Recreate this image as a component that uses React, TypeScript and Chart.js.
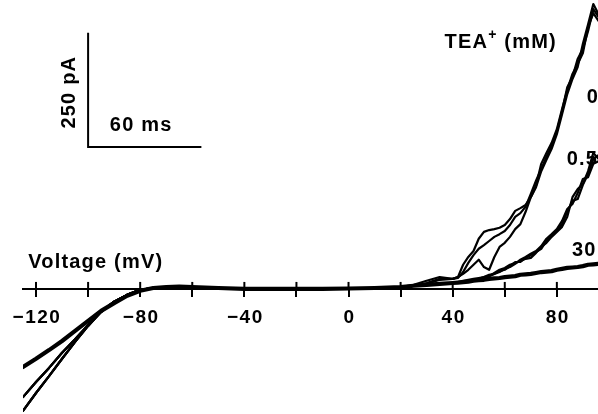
import React, { useEffect, useRef } from "react";
import { Chart, registerables } from "chart.js";

Chart.register(...registerables);

// Voltage grid (mV) for the hyperpolarised / plateau part of the ramps
const NEG_V = [-125, -120, -115, -110, -105, -100, -95, -90, -85, -80, -75, -70, -65, -60, -50, -40, -30, -20, -10, 0, 10, 20];
// Currents (pA) in that part, per TEA+ concentration
const NEG_0 = [-267, -228, -191, -153, -116, -81, -50, -28, -13, -2, 2, 4, 5, 4, 2, 0, 0, 0, 0, 1, 2, 4];
const NEG_05 = [-237, -204, -173, -140, -110, -79, -50, -28, -13, -2, 2, 4, 5, 4, 2, 0, 0, 0, 0, 1, 2, 4];
const NEG_30 = [-171, -153, -134, -114, -92, -70, -48, -31, -15, -4, 2, 4, 5, 4, 2, 0, 0, 0, 0, 1, 2, 4];

// Voltage grid (mV) for the depolarised part
const POS_V = [25, 30, 35, 40, 42, 44, 46, 48, 50, 52, 54, 56, 58, 60, 62, 64, 66, 68, 70, 72, 74, 76, 78, 80, 82, 84, 86, 88, 90, 92, 94, 96];
// 0 mM TEA+ : three sweeps (pA)
const POS_0A = [9, 18, 26, 22, 26, 53, 70, 83, 110, 125, 129, 131, 134, 140, 153, 171, 177, 184, 201, 226, 274, 298, 320, 350, 394, 436, 471, 493, 517, 574, 604, 587];
const POS_0B = [7, 11, 20, 22, 26, 33, 42, 53, 64, 48, 42, 70, 92, 101, 114, 131, 142, 169, 201, 223, 258, 283, 307, 339, 383, 427, 460, 486, 537, 580, 624, 602];
const POS_0C = [7, 13, 22, 22, 24, 37, 57, 74, 88, 96, 105, 114, 120, 127, 140, 158, 166, 180, 208, 237, 263, 289, 313, 346, 390, 442, 464, 504, 526, 565, 613, 596];
// 0.5 mM TEA+ : three sweeps (pA)
const POS_05A = [7, 9, 11, 13, 15, 15, 18, 20, 22, 24, 28, 35, 42, 46, 53, 57, 61, 66, 68, 79, 92, 101, 114, 125, 136, 158, 201, 219, 230, 258, 298, 285];
const POS_05B = [7, 9, 11, 13, 15, 18, 20, 22, 24, 26, 31, 33, 37, 44, 48, 55, 64, 70, 77, 83, 94, 110, 120, 131, 149, 175, 186, 210, 241, 245, 274, 280];
const POS_05C = [7, 9, 11, 13, 13, 15, 18, 20, 22, 26, 28, 33, 39, 42, 50, 59, 59, 68, 74, 81, 88, 105, 116, 127, 142, 169, 193, 197, 228, 252, 285, 293];
// 30 mM TEA+ (sweeps superimpose into one thick trace)
const POS_30 = [7, 9, 11, 13, 14, 15, 16, 18, 19, 20, 22, 23, 24, 26, 27, 28, 31, 32, 33, 35, 37, 38, 39, 42, 44, 46, 47, 48, 50, 53, 54, 55];

// Axis ticks
const X_TICKS = [-120, -100, -80, -60, -40, -20, 0, 20, 40, 60, 80];
const X_LABELS = [-120, -80, -40, 0, 40, 80];
const X_MIN = -125;
const X_MAX = 95.8;
const Y_MIN = -274;
const Y_MAX = 633;

// Scale bar (250 pA vertical, 60 ms horizontal)
const SCALE_ORIGIN_MV = -100;
const SCALE_ORIGIN_PA = 311;
const SCALE_PA = 250;
const SCALE_WIDTH_MV = 43.5;

// Concentration labels
const CONC_LABELS = ["0", "0.5", "30"];
const CONC_LABEL_MV = [91.5, 83.8, 85.8];
const CONC_LABEL_PA = [420, 283, 85];

const FONT = '"Liberation Sans", Arial, Helvetica, sans-serif';

function trace(v1: number[], y1: number[], v2: number[], y2: number[]) {
  const pts = v1.map((v, i) => ({ x: v, y: y1[i] }));
  return pts.concat(v2.map((v, i) => ({ x: v, y: y2[i] })));
}

const fmt = (v: number) => (v < 0 ? "\u2212" + Math.abs(v) : String(v));

export default function App() {
  const ref = useRef<HTMLCanvasElement | null>(null);

  useEffect(() => {
    if (!ref.current) return;

    const line = (data: { x: number; y: number }[], w: number) => ({
      data,
      borderColor: "#000",
      borderWidth: w,
      pointRadius: 0,
      tension: 0,
      fill: false,
      borderJoinStyle: "round" as const,
      borderCapStyle: "round" as const,
    });

    const annot = {
      id: "annot",
      afterDraw(chart: any) {
        const { ctx } = chart;
        const xs = chart.scales.x;
        const ys = chart.scales.y;
        const axisY = ys.getPixelForValue(0);
        ctx.save();
        // upper halves of the tick marks
        ctx.strokeStyle = "#000";
        ctx.lineWidth = 2;
        X_TICKS.forEach((t) => {
          const px = xs.getPixelForValue(t);
          ctx.beginPath();
          ctx.moveTo(px, axisY - 7);
          ctx.lineTo(px, axisY);
          ctx.stroke();
        });
        ctx.fillStyle = "#000";
        ctx.textBaseline = "middle";
        // tick labels
        ctx.textAlign = "center";
        ctx.font = `bold 19px ${FONT}`;
        (ctx as any).letterSpacing = "1.5px";
        X_LABELS.forEach((v) => {
          ctx.fillText(fmt(v), xs.getPixelForValue(v) + 1, axisY + 29);
        });
        ctx.textAlign = "left";
        ctx.font = `bold 20px ${FONT}`;
        (ctx as any).letterSpacing = "1.2px";
        // Voltage label
        ctx.fillText("Voltage (mV)", xs.getPixelForValue(-123), ys.getPixelForValue(57));
        // TEA+ (mM)
        let tx = xs.getPixelForValue(36.9);
        const ty = ys.getPixelForValue(541);
        ctx.fillText("TEA", tx, ty);
        tx += ctx.measureText("TEA").width;
        ctx.font = `bold 14px ${FONT}`;
        ctx.fillText("+", tx, ty - 7);
        tx += ctx.measureText("+").width;
        ctx.font = `bold 20px ${FONT}`;
        ctx.fillText(" (mM)", tx, ty);
        // concentration labels
        CONC_LABELS.forEach((s, i) => {
          ctx.fillText(s, xs.getPixelForValue(CONC_LABEL_MV[i]), ys.getPixelForValue(CONC_LABEL_PA[i]));
        });
        // scale bar labels
        ctx.textAlign = "center";
        ctx.fillText("60 ms", xs.getPixelForValue(-79.6), ys.getPixelForValue(357));
        ctx.save();
        ctx.translate(xs.getPixelForValue(-107.3), ys.getPixelForValue(431));
        ctx.rotate(-Math.PI / 2);
        ctx.fillText("250 pA", 0, 0);
        ctx.restore();
        ctx.restore();
      },
    };

    const chart = new Chart(ref.current, {
      type: "line",
      data: {
        datasets: [
          line(trace(NEG_V, NEG_30, POS_V, POS_30), 4.2),
          line(trace(NEG_V, NEG_05, POS_V, POS_05A), 2.2),
          line(trace(NEG_V, NEG_05, POS_V, POS_05B), 2.2),
          line(trace(NEG_V, NEG_05, POS_V, POS_05C), 2.2),
          line(trace(NEG_V, NEG_0, POS_V, POS_0A), 2.2),
          line(trace(NEG_V, NEG_0, POS_V, POS_0B), 2.2),
          line(trace(NEG_V, NEG_0, POS_V, POS_0C), 2.2),
          {
            ...line(
              [
                { x: SCALE_ORIGIN_MV, y: SCALE_ORIGIN_PA + SCALE_PA },
                { x: SCALE_ORIGIN_MV, y: SCALE_ORIGIN_PA },
                { x: SCALE_ORIGIN_MV + SCALE_WIDTH_MV, y: SCALE_ORIGIN_PA },
              ],
              2
            ),
            borderJoinStyle: "miter" as const,
            borderCapStyle: "butt" as const,
          },
        ],
      },
      options: {
        responsive: false,
        animation: false,
        layout: { padding: { left: 23, right: 0, top: 0, bottom: 0 } },
        plugins: { legend: { display: false }, tooltip: { enabled: false } },
        scales: {
          x: {
            type: "linear",
            min: X_MIN,
            max: X_MAX,
            position: { y: 0 },
            afterBuildTicks: (scale: any) => {
              scale.ticks = X_TICKS.map((v) => ({ value: v }));
            },
            border: { display: true, color: "#000", width: 2 },
            grid: { drawOnChartArea: false, drawTicks: true, tickLength: 7, color: "#000", lineWidth: 2 },
            ticks: { display: false },
          },
          y: {
            type: "linear",
            min: Y_MIN,
            max: Y_MAX,
            display: false,
          },
        },
      },
      plugins: [annot],
    } as any);

    return () => chart.destroy();
  }, []);

  return (
    <div style={{ position: "absolute", left: 0, top: 0, width: 598, height: 414, background: "#fff" }}>
      <canvas ref={ref} width={598} height={414} style={{ display: "block" }} />
    </div>
  );
}
